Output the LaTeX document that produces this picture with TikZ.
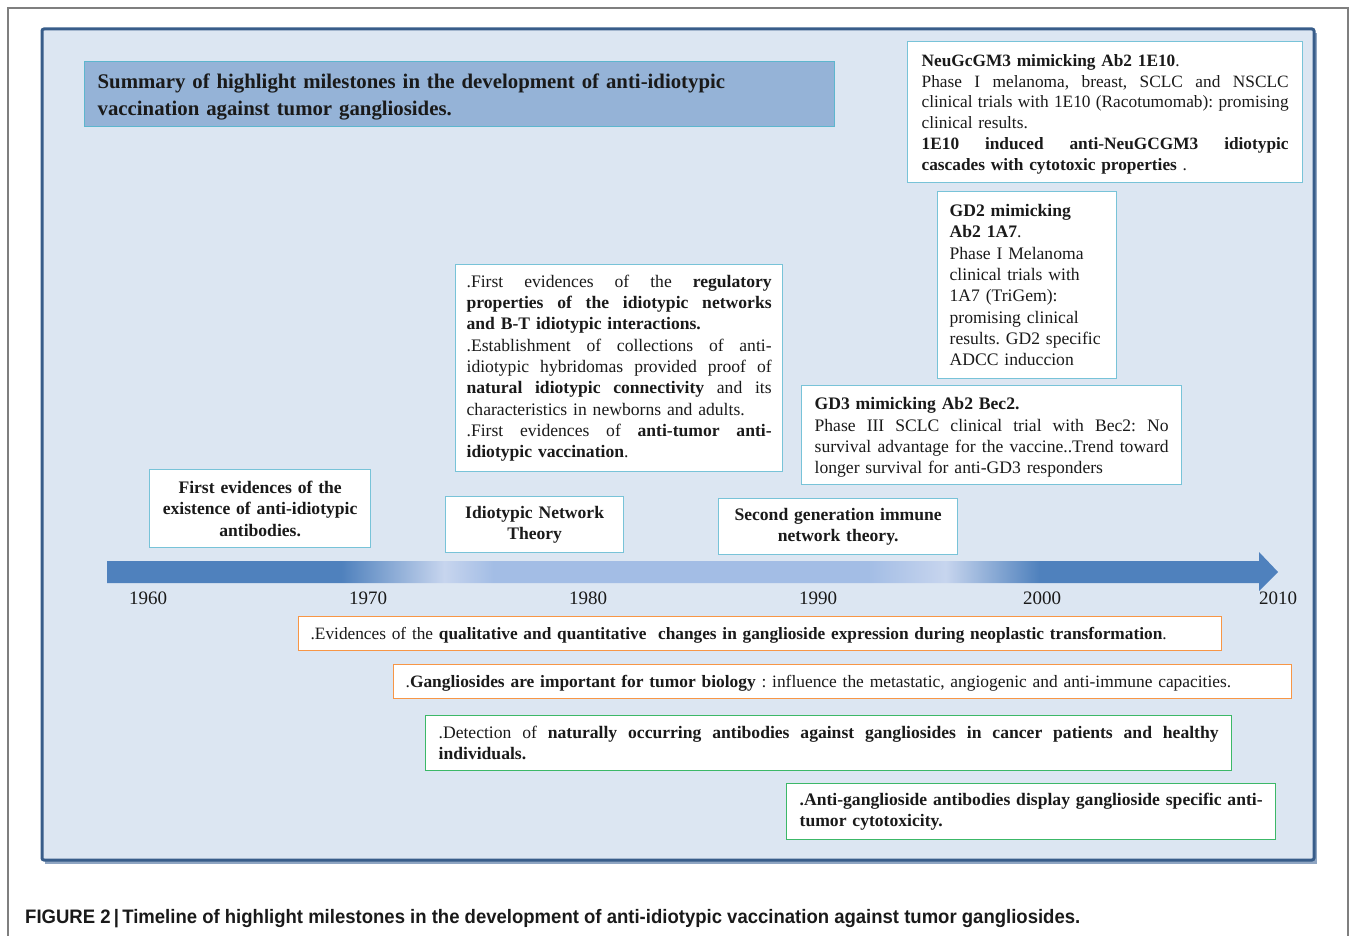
\documentclass[tikz,border=0pt]{standalone}
\usepackage{fontspec}
\setmainfont{Liberation Serif}
\newfontfamily\capfont[FakeStretch=0.95]{Liberation Sans}
\definecolor{panelfill}{HTML}{DCE6F2}
\definecolor{panelborder}{HTML}{385D8A}
\definecolor{panelshadow}{HTML}{8FA5C2}
\definecolor{titlefill}{HTML}{95B3D7}
\definecolor{titleborder}{HTML}{5DB6CE}
\definecolor{boxborder}{HTML}{78C3D8}
\definecolor{orangeborder}{HTML}{F79646}
\definecolor{greenborder}{HTML}{3CB868}
\definecolor{tdark}{HTML}{4F81BD}
\definecolor{tmid}{HTML}{A3BDE5}
\definecolor{tlight}{HTML}{C7D5EE}
\definecolor{framegray}{HTML}{7F7F7F}
\definecolor{txt}{HTML}{1A1A1A}
\pgfdeclarehorizontalshading{tlshade}{100bp}{color(0bp)=(tdark); color(35bp)=(tdark); color(39.4bp)=(tlight); color(41.5bp)=(tmid); color(57.5bp)=(tmid); color(60.8bp)=(tlight); color(64.8bp)=(tdark); color(100bp)=(tdark)}
\newcommand\J[2]{\leavevmode\hbox to #1{\spaceskip=.25em plus 3em minus .08em\relax #2}}
\frenchspacing
\tikzset{
  tbox/.style={draw=boxborder, line width=1.3pt, fill=white, inner xsep=12pt, inner ysep=0pt,
    anchor=north west, align=left, text=txt, font=\frenchspacing\fontsize{17.6}{21.3}\selectfont},
  cbox/.style={tbox, align=center},
  obox/.style={tbox, draw=orangeborder},
  gbox/.style={tbox, draw=greenborder},
  year/.style={font=\fontsize{19}{22}\selectfont, text=txt, inner sep=0pt}
}
\begin{document}
\begin{tikzpicture}[x=1pt,y=-1pt]
\useasboundingbox (0,0) rectangle (1351,936);
% outer frame
\draw[framegray, line width=1.2pt] (8,940) -- (8,8) -- (1348,8) -- (1348,940);
% panel
\fill[panelshadow] (45,33) rectangle (1317,864);
\draw[panelborder, fill=panelfill, line width=3pt, rounded corners=2pt] (42,29) rectangle (1314,860);
% title
\node[draw=titleborder, line width=1.3pt, fill=titlefill, anchor=north west, inner xsep=13pt, inner ysep=0pt,
  minimum height=65pt, text width=724pt, align=left, text=txt,
  font=\bfseries\fontsize{20.8}{27}\selectfont] (title) at (84,61)
  {\rule{0pt}{21pt}Summary of highlight milestones in the development of anti-idiotypic\\vaccination against tumor gangliosides.};
% arrow
\shade[shading=tlshade] (107,561) -- (1259,561) -- (1259,552) -- (1278,572) -- (1259,591) -- (1259,583) -- (107,583) -- cycle;
% years
\node[year] (y1960) at (148,598) {1960};
\node[year] (y1970) at (368,598) {1970};
\node[year] (y1980) at (588,598) {1980};
\node[year] (y1990) at (818,598) {1990};
\node[year] (y2000) at (1042,598) {2000};
\node[year] (y2010) at (1278,598) {2010};
% top right box
\node[tbox, minimum height=141pt, text width=367pt, inner xsep=14pt, font=\frenchspacing\fontsize{17.3}{20.8}\selectfont] (neu) at (907,41)
{\rule{0pt}{16pt}\textbf{NeuGcGM3 mimicking Ab2 1E10}.\\
\J{367pt}{Phase I melanoma, breast, SCLC and NSCLC}\\
\J{367pt}{clinical trials with 1E10 (Racotumomab): promising}\\
clinical results.\\
\J{367pt}{\textbf{1E10 induced anti-NeuGCGM3 idiotypic}}\\
\textbf{cascades with cytotoxic properties} .};
% GD2 box
\node[tbox, minimum height=187pt, text width=155pt] (gd2) at (937,191)
{\textbf{GD2 mimicking}\\
\textbf{Ab2 1A7}.\\
Phase I Melanoma\\
clinical trials with\\
1A7 (TriGem):\\
promising clinical\\
results. GD2 specific\\
ADCC induccion};
% middle box
\node[tbox, minimum height=207pt, text width=305pt, inner xsep=11pt] (mid) at (455,264)
{\J{305pt}{.First evidences of the \textbf{regulatory}}\\
\J{305pt}{\textbf{properties of the idiotypic networks}}\\
\textbf{and B-T idiotypic interactions.}\\
\J{305pt}{.Establishment of collections of anti-}\\
\J{305pt}{idiotypic hybridomas provided proof of}\\
\J{305pt}{\textbf{natural idiotypic connectivity} and its}\\
characteristics in newborns and adults.\\
\J{305pt}{.First evidences of \textbf{anti-tumor anti-}}\\
\textbf{idiotypic vaccination}.};
% GD3 box
\node[tbox, minimum height=99pt, text width=354pt, inner xsep=13pt] (gd3) at (801,385)
{\rule{0pt}{17pt}\textbf{GD3 mimicking Ab2 Bec2.}\\
\J{354pt}{Phase III SCLC clinical trial with Bec2: No}\\
\J{354pt}{survival advantage for the vaccine..Trend toward}\\
longer survival for anti-GD3 responders};
% timeline top boxes
\node[cbox, minimum height=78pt, text width=197pt, font=\bfseries\fontsize{17.6}{21.3}\selectfont] (first) at (149,469)
{First evidences of the\\existence of anti-idiotypic\\antibodies.};
\node[cbox, minimum height=56pt, text width=154pt, font=\bfseries\fontsize{17.6}{21.3}\selectfont] (idio) at (445,496)
{Idiotypic Network\\Theory};
\node[cbox, minimum height=56pt, text width=215pt, font=\bfseries\fontsize{17.6}{21.3}\selectfont] (second) at (718,498)
{Second generation immune\\network theory.};
% bottom boxes
\node[obox, minimum height=34pt, text width=899pt, font=\frenchspacing\fontsize{17.3}{21.3}\selectfont] (or1) at (298,616)
{\rule{0pt}{16pt}.Evidences of the \textbf{qualitative and quantitative\ \ changes in ganglioside expression during neoplastic transformation}.};
\node[obox, minimum height=34pt, text width=874pt, font=\frenchspacing\fontsize{17.4}{21.3}\selectfont] (or2) at (393,664)
{\rule{0pt}{16pt}.\textbf{Gangliosides are important for tumor biology} : influence the metastatic, angiogenic and anti-immune capacities.};
\node[gbox, minimum height=55pt, text width=780pt, inner xsep=13pt] (gr1) at (425,715)
{\J{780pt}{.Detection of \textbf{naturally occurring antibodies against gangliosides in cancer patients and healthy}}\\
\textbf{individuals.}};
\node[gbox, minimum height=56pt, text width=463pt, inner xsep=13pt] (gr2) at (786,783)
{\J{463pt}{\textbf{.Anti-ganglioside antibodies display ganglioside specific anti-}}\\
\textbf{tumor cytotoxicity.}};
% caption
\node[anchor=west, inner sep=0pt, text=txt, font=\capfont\bfseries\fontsize{19.5}{22}\selectfont] (caption) at (25,919)
{FIGURE 2\,|\,Timeline of highlight milestones in the development of anti-idiotypic vaccination against tumor gangliosides.};
\end{tikzpicture}
\end{document}
